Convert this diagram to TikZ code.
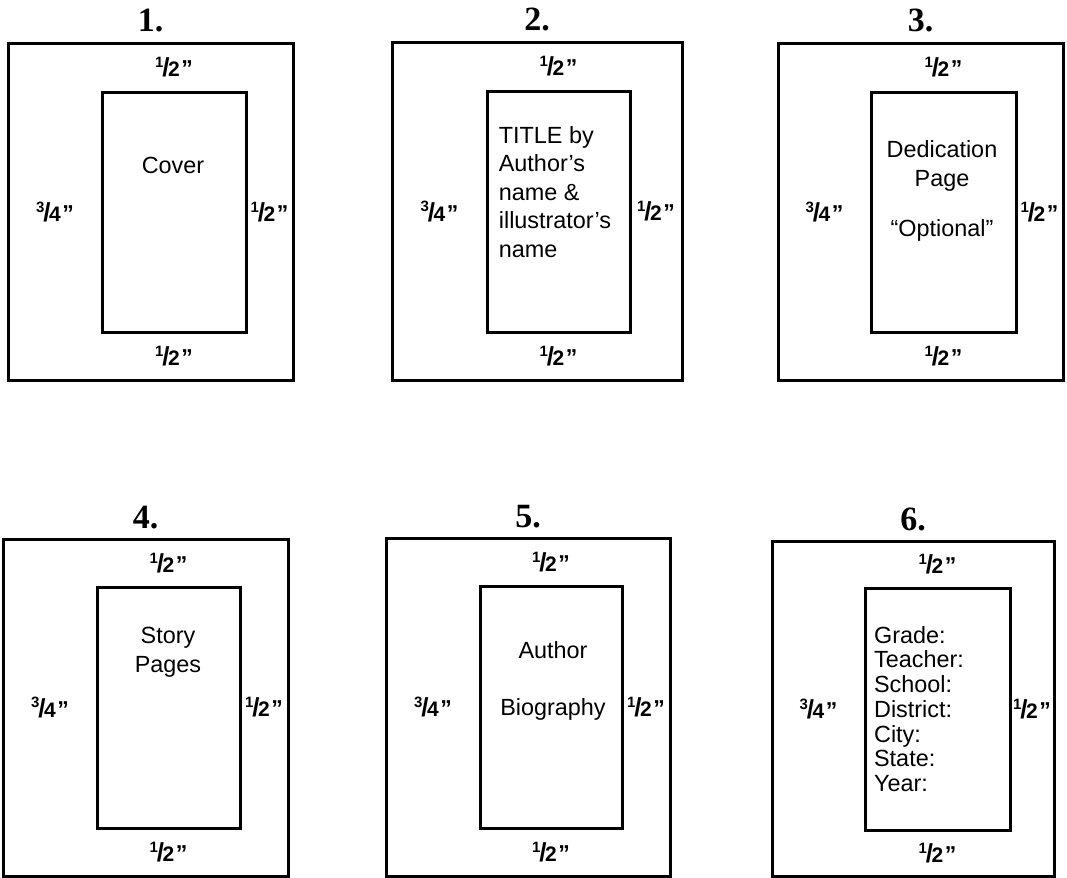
\documentclass[tikz,border=0pt]{standalone}
\usepackage{fontspec}
\setmainfont{Liberation Serif}
\setsansfont{Liberation Sans}
\usetikzlibrary{calc}

% margin widths written as 1/2" and 3/4"
\newcommand\inch[2]{\textbf{\raisebox{.75ex}{\fontsize{7.5}{7.5}\selectfont #1}\kern-.05em{\fontsize{13}{13}\selectfont/}\kern-.06em{\fontsize{10.5}{10.5}\selectfont #2}\kern.06em\textquotedblright}}

\tikzset{
  sheet/.style={draw, line width=1.5pt},
  frame/.style={draw, line width=1.5pt},
  num/.style={font=\fontsize{17}{17}\selectfont\bfseries, anchor=base},
  mrg/.style={font=\sffamily\fontsize{11.5}{12}\selectfont, inner sep=0pt},
  txt/.style={font=\sffamily\fontsize{11.7}{14.3}\selectfont, align=center},
}

\begin{document}
\begin{tikzpicture}[x=0.5pt, y=-0.5pt]
\useasboundingbox (0,0) rectangle (1067,878);

% page n: outer sheet corners, then inner frame corners
\foreach \n/\a/\b/\c/\d/\e/\f/\g/\h in {
    1/8/43/293/380/102/92/246/332,
    2/392/42/682/380/487/91/630/332,
    3/778/43/1063/380/871/92/1016/332,
    4/3/539/288/876/97/587/240/828,
    5/386/538/670/876/480/586/622/828,
    6/772/541/1054/876/865/588/1010/830}
{
  \coordinate (onw\n) at (\a,\b);
  \coordinate (ose\n) at (\c,\d);
  \coordinate (inw\n) at (\e,\f);
  \coordinate (ise\n) at (\g,\h);
  \coordinate (ic\n) at ($(inw\n)!.5!(ise\n)$);
  \draw[sheet] (onw\n) rectangle (ose\n);
  \draw[frame] (inw\n) rectangle (ise\n);
  \node[num] (t\n) at ($(onw\n)!.5!(onw\n -| ose\n)+(0,-11)$) {\n.};
  \node[mrg] (top\n) at ($(ic\n |- onw\n)!.5!(ic\n |- inw\n)$) {\inch12};
  \node[mrg] (bot\n) at ($(ic\n |- ise\n)!.5!(ic\n |- ose\n)$) {\inch12};
  \node[mrg] (lft\n) at ($(onw\n |- ic\n)!.5!(inw\n |- ic\n)$) {\inch34};
  \node[mrg] (rgt\n) at ($(ise\n |- ic\n)!.5!(ose\n |- ic\n)$) {\inch12};
}

\node[txt] (cover) at (173,165) {Cover};
\node[txt, align=left] (title) at (555,192) {TITLE by\\Author’s\\name \&\\illustrator’s\\name};
\node[txt] (dedic) at (942,191) {Dedication\\Page\\[11pt]“Optional”};
\node[txt] (story) at (168,652) {Story\\Pages};
\node[txt] (author) at (553,650) {Author};
\node[txt] (bio) at (553,709) {Biography};
\node[txt, align=left, font=\sffamily\fontsize{11.7}{12.35}\selectfont] (info) at (919,709)
  {Grade:\\Teacher:\\School:\\District:\\City:\\State:\\Year:};
\end{tikzpicture}
\end{document}
